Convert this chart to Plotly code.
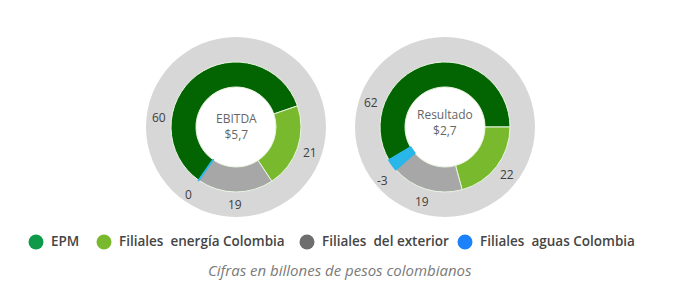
import math
import plotly.graph_objects as go

# ---- data ----
categories = ["EPM", "Filiales  energía Colombia", "Filiales  del exterior", "Filiales  aguas Colombia"]
ebitda_values = [60, 21, 19, 0]
resultado_values = [62, 22, 19, -3]
chart_titles = ["EBITDA", "Resultado"]
chart_totals = ["$5,7", "$2,7"]
caption = "Cifras en billones de pesos colombianos"

# ---- style ----
W, H = 680, 284
slice_colors = ["#036402", "#79B92E", "#A7A7A7", "#29B6E8"]
legend_colors = ["#0E9A48", "#79B92E", "#6E6E6E", "#1B82FA"]
ring_color = "#D7D7D7"
centers = [(236, 127), (445, 127)]
r_outer_bg, r_outer, r_inner = 90, 65, 40
epm_end_angle = [71, 90]        # clockwise from 12 o'clock, where EPM slice ends
epm_label_angle = [277, 288]
center_text_dy = [-0.5, -4.5]
label_r = 78

fig = go.Figure()


def px_x(x):
    return x / W


def px_y(y):
    return 1 - y / H


def note(x, y, text, font, xanchor="center"):
    fig.add_annotation(x=px_x(x), y=px_y(y), xref="paper", yref="paper",
                       xanchor=xanchor, yanchor="middle", text=text,
                       showarrow=False, font=font)


series = [ebitda_values, resultado_values]
for k, vals in enumerate(series):
    cx, cy = centers[k]
    # gray background ring
    fig.add_trace(go.Pie(
        values=[1], labels=["bg"], marker=dict(colors=[ring_color]),
        hole=r_outer / r_outer_bg, textinfo="none", hoverinfo="skip", sort=False,
        showlegend=False,
        domain=dict(x=[px_x(cx - r_outer_bg), px_x(cx + r_outer_bg)],
                    y=[px_y(cy + r_outer_bg), px_y(cy - r_outer_bg)]),
    ))
    shown = [abs(v) for v in vals]
    total = sum(shown)
    rotation = epm_end_angle[k] - 360 * shown[0] / total
    fig.add_trace(go.Pie(
        values=shown, labels=categories,
        marker=dict(colors=slice_colors,
                    line=dict(color=["#E8F5E0", "#E8F5E0", "#E8F5E0", slice_colors[3]],
                              width=[1, 1, 1, 2])),
        hole=r_inner / r_outer, textinfo="none", hoverinfo="skip", sort=False,
        direction="clockwise", rotation=rotation, showlegend=False,
        domain=dict(x=[px_x(cx - r_outer), px_x(cx + r_outer)],
                    y=[px_y(cy + r_outer), px_y(cy - r_outer)]),
    ))
    # value labels
    start = rotation
    for i, v in enumerate(vals):
        span = 360 * shown[i] / total
        mid = start + span / 2
        small = span < 15
        ang = epm_label_angle[k] if i == 0 else (start if small else mid)
        start += span
        rr = label_r + (4 if small else 0)
        a = math.radians(ang)
        lx = cx + rr * math.sin(a)
        ly = cy - rr * math.cos(a)
        note(lx, ly, str(v), dict(family="Open Sans", size=12, color="#404040"))
    # center text
    note(cx, cy + center_text_dy[k], chart_titles[k] + "<br>" + chart_totals[k],
         dict(family="Open Sans", size=12, color="#666666"))

# legend
legend_circle_x = [36, 104, 307, 465]
legend_y = 242
for i, name in enumerate(categories):
    fig.add_shape(type="circle", xref="paper", yref="paper",
                  xsizemode="pixel", ysizemode="pixel",
                  xanchor=px_x(legend_circle_x[i]), yanchor=px_y(legend_y),
                  x0=-7.5, x1=7.5, y0=-7.5, y1=7.5,
                  fillcolor=legend_colors[i], line=dict(width=0))
    note(legend_circle_x[i] + 13, legend_y - 1, name.replace("  ", "&nbsp; "),
         dict(family="Open Sans", size=13.5, color="#454545", weight=600), xanchor="left")

note(340, 270, "<i>" + caption + "</i>", dict(family="Open Sans", size=15, color="#7A7A7A"))

fig.update_layout(width=W, height=H, margin=dict(l=0, r=0, t=0, b=0),
                  paper_bgcolor="white", plot_bgcolor="white")
fig.write_html("out.html")
